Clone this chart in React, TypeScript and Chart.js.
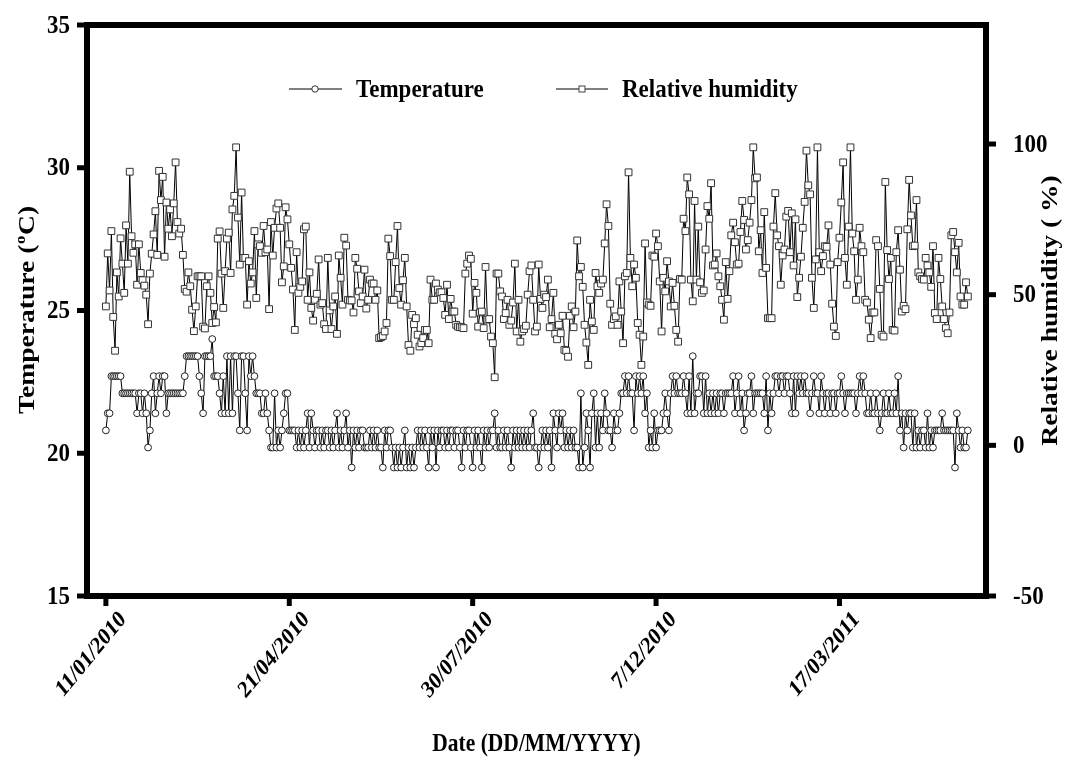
import React, { useEffect, useRef } from "react";
import { Chart, registerables } from "chart.js";

Chart.register(...registerables);

// ---- data (day index 0 = 11/01/2010) ----
const xTickDays = [0, 100, 200, 300, 400];
const xTickLabels = ["11/01/2010", "21/04/2010", "30/07/2010", "7/12/2010", "17/03/2011"];
const tempTicks = [15, 20, 25, 30, 35];
const humTicks = [-50, 0, 50, 100];

const temperature: number[] = [
  20.8, 21.4, 21.4, 22.7, 22.7, 22.7, 22.7, 22.7, 22.7, 22.1,
  22.1, 22.1, 22.1, 22.1, 22.1, 22.1, 22.1, 21.4, 22.1, 22.1,
  21.4, 22.1, 21.4, 20.2, 20.8, 22.1, 22.7, 21.4, 22.1, 22.7,
  22.1, 22.7, 22.7, 21.4, 22.1, 22.1, 22.1, 22.1, 22.1, 22.1,
  22.1, 22.1, 22.1, 22.7, 23.4, 23.4, 23.4, 23.4, 23.4, 23.4,
  23.4, 22.7, 22.1, 21.4, 23.4, 23.4, 23.4, 23.4, 24.0, 22.7,
  22.7, 22.7, 22.1, 21.4, 22.7, 21.4, 23.4, 21.4, 23.4, 21.4,
  23.4, 23.4, 22.1, 20.8, 23.4,
  23.4, 22.1, 20.8, 23.4, 22.7, 23.4, 22.7, 22.1, 22.1, 22.1,
  21.4, 21.4, 22.1, 21.4, 20.8, 20.2, 20.2, 22.1, 20.2, 20.8,
  20.2, 20.8, 21.4, 22.1, 22.1, 20.8, 20.8, 20.8, 20.8, 20.2,
  20.8, 20.2, 20.8, 20.2, 20.8, 21.4, 20.2, 21.4, 20.8, 20.2,
  20.8, 20.8, 20.2, 20.8, 20.2, 20.8, 20.8, 20.2, 20.8, 20.2,
  20.8, 21.4, 20.2, 20.8, 20.2, 20.8, 21.4, 20.2, 20.8, 19.5,
  20.8, 20.2, 20.8, 20.2, 20.8, 20.8, 20.2, 20.2, 20.2, 20.8,
  20.2, 20.8, 20.2, 20.8, 20.2, 20.2, 19.5, 20.8, 20.2, 20.8, 20.8,
  20.2, 19.5, 20.2, 19.5, 20.2, 19.5, 20.2, 20.8, 19.5, 20.2,
  19.5, 20.2, 19.5, 20.2, 20.8, 20.2, 20.8, 20.2, 20.8, 20.2,
  19.5, 20.8, 20.2, 20.8, 19.5, 20.8, 20.2, 20.8, 20.8, 20.2,
  20.8, 20.2, 20.8, 20.8, 20.2, 20.8, 20.8, 20.2, 19.5, 20.8,
  20.2, 20.8, 20.8, 20.2, 19.5, 20.8, 20.2, 20.8, 20.2, 19.5,
  20.8, 20.2, 20.8, 20.2, 20.8, 20.8, 21.4, 20.2, 20.8, 20.2,
  20.2, 20.8, 20.2, 20.8, 20.2, 19.5, 20.8, 20.2, 20.8, 20.2,
  20.8, 20.2, 20.8, 20.2, 20.8, 20.2, 20.8, 21.4, 20.2,
  20.2, 19.5, 20.2, 20.8, 20.2, 20.8, 20.2, 20.8, 19.5, 21.4,
  20.8, 20.2, 21.4, 20.8, 21.4, 20.2, 20.8, 20.2, 20.8, 20.2,
  20.8, 20.2, 20.2, 19.5, 22.1, 19.5, 20.2, 21.4, 20.8, 19.5,
  21.4, 22.1, 20.2, 21.4, 20.2, 21.4, 20.8, 22.1, 21.4, 20.8,
  20.8, 20.2, 21.4, 20.8, 20.8, 21.4, 22.1, 22.1, 22.7, 22.1,
  22.7, 22.1, 22.1, 20.8, 22.7, 22.1, 22.7, 22.1, 22.7, 21.4,
  22.1, 20.2, 20.8, 20.2, 21.4, 20.2, 20.8, 20.8, 20.8, 21.4,
  22.1, 21.4, 20.8, 22.1, 22.7, 22.1, 22.7, 22.1, 22.1,
  22.1, 22.7, 22.1, 21.4, 22.7, 21.4, 23.4, 21.4, 22.1, 22.1,
  22.7, 22.7, 21.4, 22.7, 21.4, 22.1, 21.4, 22.1, 21.4, 22.1,
  21.4, 22.1, 22.1, 21.4, 22.1, 22.1, 22.1, 22.1, 22.7, 21.4,
  22.1, 22.7, 21.4, 22.1, 20.8, 21.4, 22.1, 22.1, 22.7, 21.4,
  22.1, 22.1, 22.1, 22.1, 22.1, 21.4, 22.7, 20.8, 22.1, 21.4,
  22.1, 22.7, 22.7, 22.1, 22.7, 22.7, 22.1, 22.7, 22.7, 22.1,
  21.4, 22.7, 21.4, 22.7, 22.1, 22.7, 22.1, 22.7, 22.1, 22.1,
  21.4, 22.1, 22.7, 22.1, 22.1, 21.4, 22.7, 22.1, 21.4,
  22.1, 22.1, 21.4, 22.1, 22.1, 21.4, 22.1, 22.1, 22.7, 22.1,
  21.4, 22.1, 22.1, 22.1, 22.1, 22.1, 21.4, 22.1, 22.7, 22.1,
  22.7, 22.1, 21.4, 21.4, 22.1, 21.4, 21.4, 22.1, 21.4, 20.8,
  21.4, 22.1, 21.4, 21.4, 22.1, 21.4, 21.4, 22.1, 21.4, 22.7,
  20.8, 21.4, 20.2, 21.4, 20.8, 21.4, 21.4, 20.2, 21.4, 20.2,
  20.8, 20.2, 20.8, 20.8, 20.2, 21.4, 20.2, 20.8, 20.2, 20.8,
  20.8, 20.8, 20.8, 21.4, 20.8, 20.8, 20.8, 20.8, 20.8, 20.8,
  19.5, 21.4, 20.8, 20.2, 20.8, 20.2, 20.2, 20.8,
];

const humidity: number[] = [
  46.1, 63.7, 51.4, 71.1, 42.6, 31.4, 57.4, 49.4, 68.7, 60.3,
  50.6, 73.0, 60.3, 90.8, 69.4, 63.9, 66.7, 53.3, 66.7, 57.2,
  54.8, 53.0, 50.0, 40.2, 57.0, 63.6, 70.0, 77.7, 63.2, 91.1,
  81.4, 89.1, 62.6, 80.6, 71.9, 78.3, 69.4, 80.3, 93.9, 74.1,
  70.3, 71.9, 63.2, 51.9, 51.0, 57.4, 52.8, 45.0, 37.9, 46.1,
  56.1, 56.1, 56.1, 39.4, 38.8, 52.8, 56.1, 50.6, 40.6, 45.9,
  40.8, 68.6, 71.0, 57.0, 45.6, 57.8, 68.6, 70.6, 57.2, 78.3,
  82.8, 98.9, 75.6, 60.0, 83.9,
  62.2,
  62.2, 46.7, 61.1, 53.7, 57.4, 71.1, 48.9, 66.7, 66.1, 63.9,
  72.8, 64.1, 65.0, 45.2, 74.1, 63.0, 72.2, 78.6, 80.3, 72.2,
  54.1, 59.4, 79.0, 75.0, 66.7, 58.9, 51.7, 38.3, 64.1, 50.6,
  52.6, 54.4, 71.7, 72.6, 48.3, 57.4, 45.6, 41.4, 48.3, 50.3,
  61.7, 46.7, 47.2, 40.2, 38.6, 62.2, 44.8, 38.6, 46.1, 49.4,
  37.0, 63.0, 55.6, 46.7, 68.9, 66.3, 48.3, 48.1, 48.1, 44.1, 62.2,
  58.6, 51.1, 47.2, 49.4, 58.3, 45.4, 48.3, 55.0, 53.7, 53.7, 48.3,
  51.4, 35.6, 35.9, 36.3, 37.8, 40.6, 68.6, 62.8,
  48.3,
  48.3, 60.8, 72.8, 52.2, 46.7, 54.8, 62.2, 46.1, 33.3, 31.4,
  43.3, 40.2, 42.2, 36.7, 32.8, 33.9, 35.6, 38.3, 38.3, 33.9,
  55.0, 48.3, 48.3, 53.7, 51.7, 50.8, 50.8, 48.9, 43.3, 53.3, 41.9, 48.6,
  44.4, 44.4, 40.0, 39.4, 39.2, 39.2, 38.9, 57.0, 60.3, 63.0, 61.9, 43.7,
  53.9, 50.6, 39.4, 44.1, 44.4, 38.9, 59.2, 41.7, 41.9, 36.1,
  33.9, 22.6, 57.0, 57.0, 51.1, 49.4, 41.9, 43.9, 48.3, 40.0,
  41.4, 47.4, 60.3, 37.8, 48.3, 34.4, 37.8, 38.6, 39.7, 50.0,
  57.8, 59.7, 48.3, 37.8,
  39.4, 60.0, 48.6, 45.6, 50.0, 49.2, 55.0, 39.2, 41.9, 50.6,
  37.0, 35.2, 40.0, 37.2, 43.0, 31.7, 31.4, 29.4, 43.0, 46.1,
  39.2, 44.4, 68.0, 56.1, 59.2, 52.6, 40.0, 34.1, 26.7, 48.3,
  41.1, 38.3, 57.2, 52.8, 50.6, 53.7, 55.0, 67.0, 80.0, 72.8,
  47.0, 40.0, 41.9, 42.8, 40.0, 54.4, 44.4, 33.9, 56.1, 57.2,
  90.6, 62.2, 52.8, 60.0, 55.6, 40.6, 36.7, 26.7, 36.1, 67.0,
  47.4, 46.7, 46.3, 63.0, 62.6, 70.3, 66.1, 54.4, 37.8, 55.6,
  51.1, 61.1, 54.4, 46.1, 53.9, 46.3, 38.3, 34.4, 55.2,
  55.0,
  75.2, 71.1, 88.9, 83.3, 55.0, 47.8, 81.1, 55.0, 72.6, 54.1,
  50.6, 51.4, 65.0, 79.4, 75.2, 87.0, 59.7, 60.0, 63.7, 56.1,
  52.8, 48.3, 41.7, 60.8, 48.6, 57.8, 69.7, 73.9, 67.4, 60.0,
  60.3, 70.8, 81.1, 74.8, 65.0, 68.1, 73.9, 81.4, 98.9, 88.6,
  88.9, 64.4, 71.4, 57.2, 77.4, 58.9, 42.2, 42.2, 42.2, 72.6,
  83.7, 69.7, 66.1, 53.3, 63.0, 65.0, 75.9, 77.8, 64.1, 77.0,
  59.7, 75.0, 49.2, 55.6, 62.6, 72.2, 80.8, 97.8, 86.3, 83.3,
  55.6, 45.6, 61.7, 98.9, 64.1, 57.8, 62.8, 66.1,
  65.9, 73.0, 60.0, 47.0, 39.4, 36.3, 60.8, 68.9, 80.6, 93.9,
  62.2, 53.3, 72.6, 98.9, 70.3, 64.4, 48.3, 55.0, 72.2, 66.1,
  64.1, 48.3, 47.4, 41.7, 35.6, 44.1, 44.1, 68.1, 66.1, 51.9,
  36.7, 36.1, 87.4, 64.8, 55.2, 62.2, 38.3, 38.1, 64.1, 71.4,
  58.3, 44.4, 46.3, 45.2, 71.7, 88.1, 76.3, 66.1, 66.3, 81.4,
  57.4, 56.1, 55.2, 55.0, 62.2, 59.7, 57.4, 52.6, 66.1, 43.9,
  41.9, 62.2, 55.2, 46.1, 41.9, 38.9, 37.2, 44.1, 69.7, 70.8,
  64.1, 57.4, 67.2, 49.4, 46.7, 46.7, 54.1, 49.4,
];

const FONT = '"Liberation Serif", "Times New Roman", serif';
const STRETCH = 1.15; // text in the reference is slightly taller than wide

export default function App() {
  const ref = useRef<HTMLCanvasElement>(null);

  useEffect(() => {
    document.body.style.margin = "0";
    const canvas = ref.current;
    if (!canvas) return;

    const overlay = {
      id: "overlay",
      afterDatasetsDraw(chart: any) {
        const { ctx, chartArea: a, scales } = chart;
        const xs = scales.x;
        const yl = scales.y;
        const yr = scales.y1;
        const line = (x1: number, y1: number, x2: number, y2: number) => {
          ctx.beginPath();
          ctx.moveTo(x1, y1);
          ctx.lineTo(x2, y2);
          ctx.stroke();
        };
        const text = (s: string, x: number, y: number, font: string, align: string, rot = 0, sy = STRETCH) => {
          ctx.save();
          ctx.translate(x, y);
          ctx.scale(1, sy);
          if (rot) ctx.rotate(rot);
          ctx.font = font;
          ctx.textAlign = align;
          ctx.textBaseline = "middle";
          ctx.fillText(s, 0, 0);
          ctx.restore();
        };
        ctx.save();
        ctx.strokeStyle = "#000";
        ctx.fillStyle = "#000";

        // tick marks
        ctx.lineWidth = 5;
        tempTicks.forEach((v) => {
          const y = yl.getPixelForValue(v);
          line(a.left - 10, y, a.left, y);
        });
        humTicks.forEach((v) => {
          const y = yr.getPixelForValue(v);
          line(a.right, y, a.right + 10, y);
        });
        xTickDays.forEach((d) => {
          const x = xs.getPixelForValue(d);
          line(x, a.bottom, x, a.bottom + 10);
        });

        // frame
        ctx.lineWidth = 6;
        ctx.strokeRect(a.left, a.top, a.right - a.left, a.bottom - a.top);

        // tick labels
        const tickFont = `bold 23px ${FONT}`;
        tempTicks.forEach((v) => text(String(v), a.left - 17, yl.getPixelForValue(v) + 1, tickFont, "right", 0, 1.1));
        humTicks.forEach((v) => text(String(v), a.right + 27, yr.getPixelForValue(v) + 1, tickFont, "left", 0, 1.1));

        const xFont = `bold 20px ${FONT}`;
        xTickDays.forEach((d, i) => {
          const x = xs.getPixelForValue(d);
          text(xTickLabels[i], x + 17, a.bottom + 20, xFont, "right", -Math.PI / 4, 1.22);
        });

        // x title
        text("Date (DD/MM/YYYY)", (a.left + a.right) / 2, 744, `bold 21.5px ${FONT}`, "center", 0, 1.2);

        // left title with superscript
        const midY = (a.top + a.bottom) / 2;
        const big = `bold 23px ${FONT}`;
        const small = `bold 14px ${FONT}`;
        ctx.save();
        ctx.translate(28, midY);
        ctx.scale(1, 1.2);
        ctx.rotate(-Math.PI / 2);
        ctx.textBaseline = "middle";
        ctx.textAlign = "left";
        ctx.font = big;
        const w1 = ctx.measureText("Temperature (").width;
        const w3 = ctx.measureText("C)").width;
        ctx.font = small;
        const w2 = ctx.measureText("o").width;
        let px = -(w1 + w2 + w3) / 2;
        ctx.font = big;
        ctx.fillText("Temperature (", px, 0);
        px += w1;
        ctx.font = small;
        ctx.fillText("o", px + 0.5, -7);
        px += w2 + 1;
        ctx.font = big;
        ctx.fillText("C)", px, 0);
        ctx.restore();

        // right title
        ctx.save();
        ctx.translate(1051, midY);
        ctx.scale(1, 1.2);
        ctx.rotate(-Math.PI / 2);
        ctx.font = big;
        ctx.textAlign = "center";
        ctx.textBaseline = "middle";
        ctx.fillText("Relative humidity ( %)", 0, 0);
        ctx.restore();

        // legend
        const ly = 89;
        ctx.lineWidth = 1;
        ctx.strokeStyle = "#000";
        line(289, ly, 342, ly);
        ctx.beginPath();
        ctx.arc(315, ly, 3.2, 0, Math.PI * 2);
        ctx.fillStyle = "#fff";
        ctx.fill();
        ctx.strokeStyle = "#333";
        ctx.stroke();
        ctx.strokeStyle = "#000";
        line(556, ly, 608, ly);
        ctx.fillStyle = "#fff";
        ctx.fillRect(579, ly - 3, 6, 6);
        ctx.strokeStyle = "#444";
        ctx.strokeRect(579, ly - 3, 6, 6);
        ctx.fillStyle = "#000";
        const legFont = `bold 23px ${FONT}`;
        text("Temperature", 356, ly + 1, legFont, "left", 0, 1.1);
        text("Relative humidity", 622, ly + 1, legFont, "left", 0, 1.1);

        ctx.restore();
      },
    };

    const chart = new Chart(canvas, {
      type: "line",
      data: {
        datasets: [
          {
            label: "Temperature",
            data: temperature.map((v, i) => ({ x: i, y: v })),
            yAxisID: "y",
            borderColor: "#000",
            borderWidth: 1,
            pointStyle: "circle",
            pointRadius: 3.4,
            pointBackgroundColor: "#fff",
            pointBorderColor: "#222",
            pointBorderWidth: 1,
            tension: 0,
          },
          {
            label: "Relative humidity",
            data: humidity.map((v, i) => ({ x: i, y: v })),
            yAxisID: "y1",
            borderColor: "#000",
            borderWidth: 1,
            pointStyle: "rect",
            pointRadius: 4.8,
            pointBackgroundColor: "#fff",
            pointBorderColor: "#333",
            pointBorderWidth: 1,
            tension: 0,
          },
        ],
      },
      options: {
        animation: false,
        responsive: false,
        devicePixelRatio: 1,
        events: [],
        layout: { padding: { left: 87, top: 25, right: 94, bottom: 164 } },
        scales: {
          x: { type: "linear", display: false, min: -10.3, max: 479.9 },
          y: { type: "linear", display: false, min: 15, max: 35 },
          y1: { type: "linear", display: false, position: "right", min: -50, max: 139.5 },
        },
        plugins: {
          legend: { display: false },
          tooltip: { enabled: false },
        },
      },
      plugins: [overlay],
    });

    return () => chart.destroy();
  }, []);

  return (
    <div style={{ width: 1080, height: 760, background: "#fff" }}>
      <canvas ref={ref} width={1080} height={760} style={{ display: "block", width: 1080, height: 760 }} />
    </div>
  );
}
